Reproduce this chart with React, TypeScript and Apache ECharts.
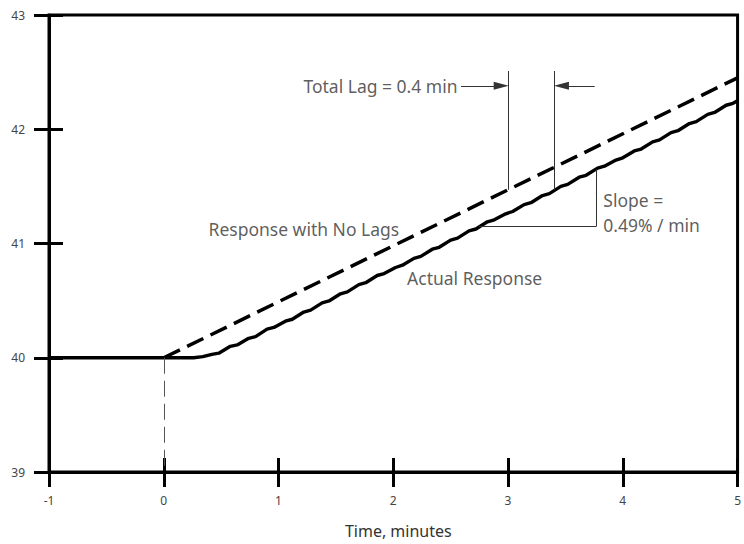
import React, { useEffect, useRef } from 'react';
import * as echarts from 'echarts';

// Axis ranges / ticks
const xMin = -1;
const xMax = 5;
const yMin = 39;
const yMax = 43;

// Response with no lags (dashed)
const noLagTime = [0, 5];
const noLagValue = [40, 42.45];

// Actual response (solid, slightly stepped)
const actualTime = [
  -1, 0.26, 0.34, 0.42, 0.48, 0.58, 0.64, 0.74, 0.8, 0.9, 0.96, 1.06, 1.12, 1.22, 1.28, 1.38, 1.44,
  1.54, 1.6, 1.7, 1.76, 1.86, 1.92, 2.02, 2.08, 2.18, 2.24, 2.34, 2.4, 2.5, 2.56, 2.66, 2.72,
  2.82, 2.88, 2.98, 3.04, 3.14, 3.2, 3.3, 3.36, 3.46, 3.52, 3.62, 3.68, 3.78, 3.84, 3.94, 4.0,
  4.1, 4.16, 4.26, 4.32, 4.42, 4.48, 4.58, 4.64, 4.74, 4.8, 4.9, 4.96, 5.0,
];
const actualValue = [
  40.0, 40.0, 40.01, 40.03, 40.04, 40.1, 40.112, 40.17, 40.185, 40.25, 40.265, 40.32, 40.337, 40.4, 40.417, 40.48, 40.497,
  40.56, 40.577, 40.64, 40.657, 40.72, 40.737, 40.79, 40.81, 40.87, 40.887, 40.95, 40.967, 41.03, 41.047, 41.11, 41.127,
  41.19, 41.207, 41.26, 41.28, 41.34, 41.357, 41.42, 41.437, 41.5, 41.517, 41.58, 41.597, 41.66, 41.677, 41.73, 41.75,
  41.81, 41.827, 41.89, 41.907, 41.97, 41.987, 42.05, 42.067, 42.13, 42.147, 42.21, 42.227, 42.25,
];

// Lag annotation
const lagStart = 3.0;
const lagEnd = 3.4;
const lagTop = 42.51;
const lagBottom = 41.47;
const arrowLevel = 42.38;
const arrowLeftFrom = 2.59;
const arrowLeftTo = 2.94;
const arrowRightFrom = 3.755;
const arrowRightTo = 3.465;

// Slope triangle
const slopeX = [2.75, 3.77];
const slopeY = [41.15, 41.65];

// Zero-time dashed marker
const zeroMarkTime = 0;
const zeroMarkValue = [40, 39];

// Annotation texts
const annotationTexts = ['Total Lag = 0.4 min', 'Response with No Lags', 'Actual Response', 'Slope =', '0.49% / min'];
const annotationX = [2.56, 0.39, 2.12, 3.83, 3.83];
const annotationY = [42.38, 41.13, 40.7, 41.38, 41.16];
const annotationAlign = ['right', 'left', 'left', 'left', 'left'];

const FONT = '"Noto Sans", Lato, sans-serif';

export default function App() {
  const ref = useRef<HTMLDivElement>(null);

  useEffect(() => {
    document.body.style.margin = '0';
    if (!ref.current) return;
    const chart = echarts.init(ref.current, undefined, { renderer: 'svg' });

    const thin = { color: '#333', width: 1, type: 'solid' as const };
    const axisLineStyle = { color: '#000', width: 3 };

    const option: any = {
      animation: false,
      grid: {
        left: 49,
        right: 4,
        top: 15,
        bottom: 68,
        show: true,
        borderColor: '#000',
        borderWidth: 3,
      },
      xAxis: [
        {
          type: 'value',
          min: xMin,
          max: xMax,
          interval: 1,
          position: 'bottom',
          axisLine: { show: true, onZero: false, lineStyle: axisLineStyle },
          axisTick: { show: true, inside: false, length: 15, lineStyle: axisLineStyle },
          axisLabel: { margin: 22, color: '#444', fontSize: 12, fontFamily: FONT },
          splitLine: { show: false },
          name: 'Time, minutes',
          nameLocation: 'middle',
          nameGap: 51,
          nameTextStyle: { color: '#333', fontSize: 16, fontFamily: FONT, padding: [0, 0, 0, 10] },
        },
        {
          type: 'value',
          min: xMin,
          max: xMax,
          interval: 1,
          position: 'bottom',
          axisLine: { show: false, onZero: false },
          axisTick: { show: true, inside: true, length: 14, lineStyle: axisLineStyle },
          axisLabel: { show: false },
          splitLine: { show: false },
        },
      ],
      yAxis: [
        {
          type: 'value',
          min: yMin,
          max: yMax,
          interval: 1,
          position: 'left',
          axisLine: { show: true, onZero: false, lineStyle: axisLineStyle },
          axisTick: { show: true, inside: false, length: 15, lineStyle: axisLineStyle },
          axisLabel: { margin: 24, color: '#444', fontSize: 12, fontFamily: FONT },
          splitLine: { show: false },
        },
        {
          type: 'value',
          min: yMin,
          max: yMax,
          interval: 1,
          position: 'left',
          axisLine: { show: false, onZero: false },
          axisTick: { show: true, inside: true, length: 14, lineStyle: axisLineStyle },
          axisLabel: { show: false },
          splitLine: { show: false },
        },
      ],
      series: [
        {
          type: 'line',
          name: 'Marks',
          data: [],
          silent: true,
          markLine: {
            silent: true,
            animation: false,
            symbol: 'none',
            label: { show: false },
            lineStyle: thin,
            data: [
              [
                { coord: [zeroMarkTime, zeroMarkValue[0]], lineStyle: { color: '#555', width: 1, type: [16, 7] } },
                { coord: [zeroMarkTime, zeroMarkValue[1]] },
              ],
              [{ coord: [lagStart, lagTop] }, { coord: [lagStart, lagBottom] }],
              [{ coord: [lagEnd, lagTop] }, { coord: [lagEnd, lagBottom] }],
              [{ coord: [slopeX[0], slopeY[0]] }, { coord: [slopeX[1], slopeY[0]] }],
              [{ coord: [slopeX[1], slopeY[0]] }, { coord: [slopeX[1], slopeY[1]] }],
              [
                { coord: [arrowLeftFrom, arrowLevel], symbol: 'none' },
                { coord: [arrowLeftTo, arrowLevel], symbol: 'triangle', symbolSize: [8, 15] },
              ],
              [
                { coord: [arrowRightFrom, arrowLevel], symbol: 'none' },
                { coord: [arrowRightTo, arrowLevel], symbol: 'triangle', symbolSize: [8, 15] },
              ],
            ],
          },
        },
        {
          type: 'line',
          name: 'Response with No Lags',
          data: noLagTime.map((t, i) => [t, noLagValue[i]]),
          showSymbol: false,
          symbol: 'none',
          lineStyle: { color: '#000', width: 3.5, type: [18, 8] },
          z: 3,
        },
        {
          type: 'line',
          name: 'Actual Response',
          data: actualTime.map((t, i) => [t, actualValue[i]]),
          showSymbol: false,
          symbol: 'none',
          lineStyle: { color: '#000', width: 3.4 },
          z: 4,
        },
        {
          type: 'scatter',
          name: 'Annotations',
          symbolSize: 0,
          silent: true,
          data: annotationTexts.map((txt, i) => ({
            name: txt,
            value: [annotationX[i], annotationY[i]],
            label: { align: annotationAlign[i] },
          })),
          label: {
            show: true,
            position: 'inside',
            formatter: '{b}',
            color: '#333',
            fontSize: 17.5,
            fontFamily: FONT,
            verticalAlign: 'middle',
          },
          z: 5,
        },
      ],
    };

    chart.setOption(option);
    return () => chart.dispose();
  }, []);

  return <div ref={ref} style={{ width: 744, height: 544 }} />;
}
